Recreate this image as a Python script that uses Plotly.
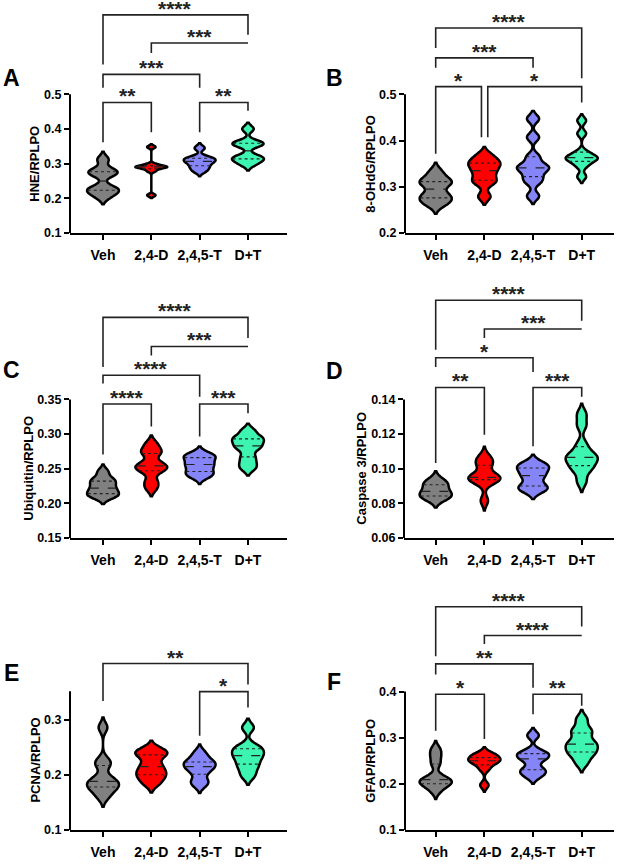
import numpy as np
import plotly.graph_objects as go

W, H = 618, 864
FONT = "Liberation Sans, Arial, Helvetica, sans-serif"

groups = ["Veh", "2,4-D", "2,4,5-T", "D+T"]
fill_colors = ["#808080", "#FF0000", "#8585F8", "#3DF5B0"]

# ---------------- data ----------------
# A: HNE/RPLPO
hne_veh = [0.205, 0.218, 0.225, 0.232, 0.268, 0.275, 0.282, 0.312]
hne_24d = [0.209, 0.279, 0.287, 0.290, 0.291, 0.292, 0.298, 0.348]
hne_245t = [0.278, 0.288, 0.296, 0.305, 0.308, 0.315, 0.318, 0.345]
hne_dt = [0.298, 0.310, 0.315, 0.322, 0.352, 0.358, 0.362, 0.400]
hne_bw = [0.011, 0.004, 0.007, 0.009]
hne_ticks = [0.1, 0.2, 0.3, 0.4, 0.5]
hne_ticktext = ["0.1", "0.2", "0.3", "0.4", "0.5"]
hne_comps = [(0, 1, "**", 0.4763, 0.362, 0.3905, 0, 0),
             (2, 3, "**", 0.4763, 0.3905, 0.4524, 0, 0),
             (0, 2, "***", 0.5571, 0.519, 0.519, 0, 0),
             (1, 3, "***", 0.6476, 0.619, 0.6476, 0, 0),
             (0, 3, "****", 0.7286, 0.5857, 0.6714, 0, 0)]

# B: 8-OHdG/RPLPO
ohdg_veh = [0.262, 0.270, 0.278, 0.285, 0.305, 0.310, 0.315, 0.332]
ohdg_24d = [0.279, 0.308, 0.316, 0.330, 0.340, 0.350, 0.355, 0.368]
ohdg_245t = [0.280, 0.310, 0.322, 0.336, 0.341, 0.348, 0.365, 0.407, 0.447]
ohdg_dt = [0.322, 0.345, 0.355, 0.360, 0.363, 0.366, 0.375, 0.415, 0.443]
ohdg_bw = [0.010, 0.009, 0.0085, 0.007]
ohdg_ticks = [0.2, 0.3, 0.4, 0.5]
ohdg_ticktext = ["0.2", "0.3", "0.4", "0.5"]
ohdg_comps = [(0, 1, "*", 0.5164, 0.3714, 0.4071, 0, -0.06),
              (1, 3, "*", 0.5164, 0.4071, 0.4821, 0.07, 0),
              (0, 2, "***", 0.5786, 0.5571, 0.5571, 0, 0),
              (0, 3, "****", 0.6429, 0.600, 0.5343, 0, 0)]

# C: Ubiquitin/RPLPO
ubq_veh = [0.209, 0.211, 0.214, 0.219, 0.222, 0.228, 0.232, 0.236, 0.246]
ubq_24d = [0.222, 0.232, 0.247, 0.250, 0.254, 0.258, 0.272, 0.276, 0.286]
ubq_245t = [0.238, 0.242, 0.246, 0.252, 0.256, 0.260, 0.266, 0.268, 0.272]
ubq_dt = [0.250, 0.258, 0.267, 0.278, 0.283, 0.288, 0.293, 0.296, 0.305]
ubq_bw = [0.005, 0.006, 0.005, 0.005]
ubq_ticks = [0.15, 0.20, 0.25, 0.30, 0.35]
ubq_ticktext = ["0.15", "0.20", "0.25", "0.30", "0.35"]
ubq_comps = [(0, 1, "****", 0.3434, 0.2703, 0.311, 0, 0),
             (2, 3, "***", 0.3434, 0.2966, 0.330, 0, 0),
             (0, 2, "****", 0.3850, 0.373, 0.3539, 0, 0),
             (1, 3, "***", 0.4265, 0.4136, 0.4265, 0, 0),
             (0, 3, "****", 0.4685, 0.3969, 0.4388, 0, 0)]

# D: Caspase 3/RPLPO
casp_veh = [0.0825, 0.0835, 0.0845, 0.0862, 0.0875, 0.0905, 0.0915, 0.0935]
casp_24d = [0.0815, 0.0920, 0.0937, 0.0945, 0.0950, 0.0965, 0.1020, 0.1040, 0.1070]
casp_245t = [0.0875, 0.0885, 0.0905, 0.0950, 0.0970, 0.1000, 0.1015, 0.1030]
casp_dt = [0.0925, 0.0990, 0.1010, 0.1040, 0.1060, 0.1070, 0.1090, 0.1140, 0.1250, 0.1315]
casp_bw = [0.0025, 0.0028, 0.0025, 0.0030]
casp_ticks = [0.06, 0.08, 0.10, 0.12, 0.14]
casp_ticktext = ["0.06", "0.08", "0.10", "0.12", "0.14"]
casp_comps = [(0, 1, "**", 0.1469, 0.1033, 0.1196, 0, 0),
              (2, 3, "***", 0.1469, 0.1129, 0.1416, 0, 0),
              (0, 2, "*", 0.1641, 0.1587, 0.1559, 0, 0),
              (1, 3, "***", 0.1807, 0.1755, 0.1807, 0, 0),
              (0, 3, "****", 0.1973, 0.1687, 0.1855, 0, 0)]

# E: PCNA/RPLPO
pcna_veh = [0.160, 0.172, 0.178, 0.183, 0.188, 0.195, 0.217, 0.226, 0.286]
pcna_24d = [0.184, 0.195, 0.202, 0.210, 0.220, 0.235, 0.240, 0.246]
pcna_245t = [0.182, 0.190, 0.205, 0.212, 0.218, 0.222, 0.228, 0.240]
pcna_dt = [0.198, 0.212, 0.222, 0.232, 0.238, 0.246, 0.252, 0.286]
pcna_bw = [0.009, 0.008, 0.0075, 0.008]
pcna_ticks = [0.1, 0.2, 0.3]
pcna_ticktext = ["0.1", "0.2", "0.3"]
pcna_comps = [(2, 3, "*", 0.3512, 0.2712, 0.3223, 0, 0),
              (0, 3, "**", 0.4022, 0.3342, 0.3643, 0, 0)]

# F: GFAP/RPLPO
gfap_veh = [0.185, 0.198, 0.200, 0.205, 0.209, 0.215, 0.243, 0.260, 0.275]
gfap_24d = [0.197, 0.232, 0.244, 0.248, 0.252, 0.255, 0.262, 0.265]
gfap_245t = [0.216, 0.226, 0.232, 0.250, 0.258, 0.264, 0.270, 0.305]
gfap_dt = [0.245, 0.262, 0.269, 0.278, 0.286, 0.292, 0.310, 0.318, 0.340]
gfap_bw = [0.009, 0.007, 0.008, 0.010]
gfap_ticks = [0.1, 0.2, 0.3, 0.4]
gfap_ticktext = ["0.1", "0.2", "0.3", "0.4"]
gfap_comps = [(0, 1, "*", 0.394, 0.315, 0.297, 0, 0),
              (2, 3, "**", 0.394, 0.351, 0.369, 0, 0),
              (0, 2, "**", 0.460, 0.437, 0.408, 0, 0),
              (1, 3, "****", 0.5215, 0.503, 0.5215, 0, 0),
              (0, 3, "****", 0.5839, 0.4763, 0.5409, 0, 0)]

# ---------------- panel layout (pixels) ----------------
panels = [
    dict(letter="A", title="HNE/RPLPO", data=[hne_veh, hne_24d, hne_245t, hne_dt], bw=hne_bw,
         ticks=hne_ticks, ticktext=hne_ticktext, comps=hne_comps, axis_top=0.5,
         left=70, right=287, cat0=103, step=48.33, bottom=235, top=0, ppu=350,
         letter_xy=(12, 79), title_x=35),
    dict(letter="B", title="8-OHdG/RPLPO", data=[ohdg_veh, ohdg_24d, ohdg_245t, ohdg_dt], bw=ohdg_bw,
         ticks=ohdg_ticks, ticktext=ohdg_ticktext, comps=ohdg_comps, axis_top=0.5,
         left=405, right=614, cat0=435.7, step=48.67, bottom=235, top=0, ppu=466.7,
         letter_xy=(334, 79), title_x=371),
    dict(letter="C", title="Ubiquitin/RPLPO", data=[ubq_veh, ubq_24d, ubq_245t, ubq_dt], bw=ubq_bw,
         ticks=ubq_ticks, ticktext=ubq_ticktext, comps=ubq_comps, axis_top=0.35,
         left=70, right=287, cat0=103, step=48.33, bottom=542.3, top=295, ppu=698,
         letter_xy=(12, 373), title_x=29),
    dict(letter="D", title="Caspase 3/RPLPO", data=[casp_veh, casp_24d, casp_245t, casp_dt], bw=casp_bw,
         ticks=casp_ticks, ticktext=casp_ticktext, comps=casp_comps, axis_top=0.14,
         left=404, right=614, cat0=435.7, step=48.67, bottom=542.3, top=285, ppu=1745,
         letter_xy=(334, 374), title_x=362),
    dict(letter="E", title="PCNA/RPLPO", data=[pcna_veh, pcna_24d, pcna_245t, pcna_dt], bw=pcna_bw,
         ticks=pcna_ticks, ticktext=pcna_ticktext, comps=pcna_comps, axis_top=0.352,
         left=70, right=287, cat0=103, step=48.33, bottom=836.7, top=645, ppu=555,
         letter_xy=(12, 679), title_x=36),
    dict(letter="F", title="GFAP/RPLPO", data=[gfap_veh, gfap_24d, gfap_245t, gfap_dt], bw=gfap_bw,
         ticks=gfap_ticks, ticktext=gfap_ticktext, comps=gfap_comps, axis_top=0.4,
         left=405, right=614, cat0=435.7, step=48.67, bottom=836.7, top=595, ppu=465,
         letter_xy=(334, 688), title_x=371),
]

VW = 0.66  # violin full width in category units


def kde(vals, bw, t):
    v = np.asarray(vals, float)
    t = np.atleast_1d(np.asarray(t, float))
    z = (t[:, None] - v[None, :]) / bw
    return np.exp(-0.5 * z * z).sum(axis=1) / (len(v) * bw * np.sqrt(2 * np.pi))


def max_kde(vals, bw):
    lo, hi = min(vals) - 2 * bw, max(vals) + 2 * bw
    n = int(np.ceil((hi - lo) / (bw / 3)))
    t = lo + np.arange(n + 1) * (hi - lo) / n
    return kde(vals, bw, t).max()


fig = go.Figure()
layout = dict(width=W, height=H, margin=dict(l=0, r=0, t=0, b=0),
              paper_bgcolor="white", plot_bgcolor="white", showlegend=False,
              violinmode="overlay", shapes=[], annotations=[])
xtickfont = dict(family=FONT, size=14, color="black", weight="bold")
ytickfont = dict(family=FONT, size=12.5, color="black", weight="bold")

for k, P in enumerate(panels):
    sfx = "" if k == 0 else str(k + 1)
    xn, yn = "x" + sfx, "y" + sfx
    y_lo = P["ticks"][0]
    y_hi = y_lo + (P["bottom"] - P["top"]) / P["ppu"]
    x_lo = (P["left"] - P["cat0"]) / P["step"]
    x_hi = (P["right"] - P["cat0"]) / P["step"]

    layout["xaxis" + sfx] = dict(
        domain=[P["left"] / W, P["right"] / W], range=[x_lo, x_hi], anchor=yn, type="linear",
        tickvals=[0, 1, 2, 3], ticktext=groups, ticks="outside", ticklen=5, tickwidth=2,
        tickcolor="black", showline=True, linewidth=2, linecolor="black", showgrid=False,
        zeroline=False, tickfont=xtickfont, fixedrange=True, ticklabelstandoff=3)
    layout["yaxis" + sfx] = dict(
        domain=[1 - P["bottom"] / H, 1 - P["top"] / H], range=[y_lo, y_hi], anchor=xn,
        tickvals=P["ticks"], ticktext=P["ticktext"], ticks="outside", ticklen=5, tickwidth=2,
        tickcolor="black", showline=False, showgrid=False, zeroline=False,
        tickfont=ytickfont, fixedrange=True)

    # y-axis spine up to the top tick
    layout["shapes"].append(dict(type="line", xref=xn + " domain", yref=yn, x0=0, x1=0,
                                 y0=y_lo, y1=P["axis_top"], line=dict(color="black", width=2)))

    for i, (vals, bw) in enumerate(zip(P["data"], P["bw"])):
        fig.add_trace(go.Violin(
            x0=i, y=vals, xaxis=xn, yaxis=yn, orientation="v", width=VW, bandwidth=bw,
            spanmode="soft", scalemode="width", points=False,
            box=dict(visible=False), meanline=dict(visible=False),
            fillcolor=fill_colors[i], line=dict(color="black", width=2.5), opacity=1,
            showlegend=False, hoverinfo="skip"))
        mk = max_kde(vals, bw)
        q1, med, q3 = np.percentile(vals, [25, 50, 75])
        for q, dash, lw in ((q1, "dot", 1.1), (med, "dash", 1.2), (q3, "dot", 1.1)):
            hw = VW / 2 * kde(vals, bw, q)[0] / mk * 0.96
            layout["shapes"].append(dict(type="line", xref=xn, yref=yn, x0=i - hw, x1=i + hw,
                                         y0=q, y1=q, line=dict(color="#222222", width=lw, dash=dash)))

    for (a, b, lab, bar, ea, eb, oa, ob) in P["comps"]:
        xa, xb = a + oa, b + ob
        path = f"M {xa},{ea} L {xa},{bar} L {xb},{bar} L {xb},{eb}"
        layout["shapes"].append(dict(type="path", xref=xn, yref=yn, path=path,
                                     line=dict(color="#222222", width=1.6)))
        layout["annotations"].append(dict(
            x=(xa + xb) / 2, y=bar, xref=xn, yref=yn, text=lab, showarrow=False,
            yanchor="bottom", yshift=-7,
            font=dict(family=FONT, size=21, color="#222222", weight="bold")))

    # panel letter
    lx, ly = P["letter_xy"]
    layout["annotations"].append(dict(
        x=lx / W, y=1 - ly / H, xref="paper", yref="paper", text=P["letter"], showarrow=False,
        xanchor="center", yanchor="middle",
        font=dict(family=FONT, size=23, color="black", weight="bold")))
    # y-axis title
    cy = (P["bottom"] + (P["bottom"] - (P["axis_top"] - y_lo) * P["ppu"])) / 2
    layout["annotations"].append(dict(
        x=P["title_x"] / W, y=1 - cy / H, xref="paper", yref="paper", text=P["title"],
        showarrow=False, textangle=-90, xanchor="center", yanchor="middle",
        font=dict(family=FONT, size=13, color="black", weight="bold")))

fig.update_layout(**layout)
fig.write_html("out.html", config={"displayModeBar": False},
               post_script="document.body.style.margin='0';")
